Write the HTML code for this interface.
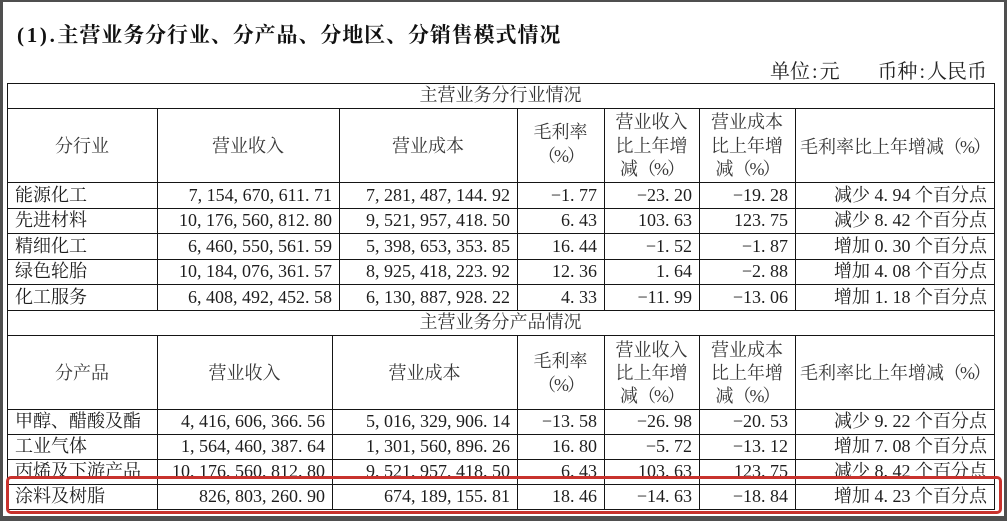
<!DOCTYPE html>
<html><head><meta charset="utf-8">
<style>
html,body{margin:0;padding:0}
body{width:1007px;height:521px;background:#4f4f4f;position:relative;overflow:hidden}
#page{position:absolute;left:3px;top:2px;width:1001px;height:514px;background:#fff}
.h{position:absolute;height:1px;background:#151515;left:7px;width:988px}
.v{position:absolute;width:1px;background:#151515}
.t{position:absolute;font-family:"Liberation Serif","Noto Serif CJK SC",serif;font-size:18px;white-space:nowrap;color:#1e1e1e;box-sizing:border-box}
.hd{color:#383838;text-align:center}
.row{position:absolute;left:0;width:1007px}
.row .t{top:0;height:100%}
.c1{left:7px;width:150px;padding-left:8px;text-align:left}
.c2{left:157px;width:182px}
.c3{left:339px;width:178px}
.p2{left:157px;width:175px}
.p3{left:332px;width:185px}
.c4{left:517px;width:87px}
.c5{left:604px;width:95px}
.c6{left:699px;width:96px}
.c7{left:795px;width:199px}
.r{text-align:right;padding-right:7px}
.pc{letter-spacing:-2px}
</style></head><body>
<div id="page"></div>

<div class="t" style="left:17px;top:23px;font-size:21px;line-height:24px;font-weight:bold;color:#111"><span style="letter-spacing:2.7px">(1).</span><span style="letter-spacing:0.9px">主营业务分行业、分产品、分地区、分销售模式情况</span></div>

<div class="t" style="left:770px;top:60px;font-size:20px;line-height:24px;color:#222">单位<span style="padding:0 2px">:</span>元</div>
<div class="t" style="left:870px;width:117px;text-align:right;top:60px;font-size:20px;line-height:24px;color:#222">币种<span style="padding:0 2px">:</span>人民币</div>

<!-- horizontal lines -->
<div class="h" style="top:83px"></div>
<div class="h" style="top:108px"></div>
<div class="h" style="top:182px"></div>
<div class="h" style="top:208px"></div>
<div class="h" style="top:233px"></div>
<div class="h" style="top:259px"></div>
<div class="h" style="top:284px"></div>
<div class="h" style="top:310px"></div>
<div class="h" style="top:335px"></div>
<div class="h" style="top:409px"></div>
<div class="h" style="top:434px"></div>
<div class="h" style="top:459px"></div>
<div class="h" style="top:484px"></div>
<div class="h" style="top:509px"></div>

<!-- vertical lines -->
<div class="v" style="left:7px;top:83px;height:427px"></div>
<div class="v" style="left:994px;top:83px;height:427px"></div>
<div class="v" style="left:157px;top:108px;height:202px"></div>
<div class="v" style="left:339px;top:108px;height:202px"></div>
<div class="v" style="left:517px;top:108px;height:202px"></div>
<div class="v" style="left:604px;top:108px;height:202px"></div>
<div class="v" style="left:699px;top:108px;height:202px"></div>
<div class="v" style="left:795px;top:108px;height:202px"></div>
<div class="v" style="left:157px;top:335px;height:175px"></div>
<div class="v" style="left:332px;top:335px;height:175px"></div>
<div class="v" style="left:517px;top:335px;height:175px"></div>
<div class="v" style="left:604px;top:335px;height:175px"></div>
<div class="v" style="left:699px;top:335px;height:175px"></div>
<div class="v" style="left:795px;top:335px;height:175px"></div>

<!-- section 1 header -->
<div class="t hd" style="left:7px;width:987px;top:83px;line-height:25px;color:#333">主营业务分行业情况</div>

<div class="t hd" style="left:7px;width:150px;top:134px;line-height:24px">分行业</div>
<div class="t hd" style="left:157px;width:182px;top:134px;line-height:24px">营业收入</div>
<div class="t hd" style="left:339px;width:178px;top:134px;line-height:24px">营业成本</div>
<div class="t hd" style="left:517px;width:87px;top:120px;line-height:24px">毛利率<br><span class="pc">（%）</span></div>
<div class="t hd" style="left:604px;width:95px;top:111px;line-height:23.5px">营业收入<br>比上年增<br>减<span class="pc">（%）</span></div>
<div class="t hd" style="left:699px;width:96px;top:111px;line-height:23.5px">营业成本<br>比上年增<br>减<span class="pc">（%）</span></div>
<div class="t hd" style="left:795px;width:199px;top:135px;line-height:24px">毛利率比上年增减<span class="pc">（%）</span></div>

<!-- section 1 rows -->
<div class="row" style="top:182px;height:26px;line-height:26px">
<div class="t c1">能源化工</div><div class="t c2 r">7, 154, 670, 611. 71</div><div class="t c3 r">7, 281, 487, 144. 92</div><div class="t c4 r">−1. 77</div><div class="t c5 r">−23. 20</div><div class="t c6 r">−19. 28</div><div class="t c7 r">减少 4. 94 个百分点</div>
</div>
<div class="row" style="top:208px;height:25px;line-height:25px">
<div class="t c1">先进材料</div><div class="t c2 r">10, 176, 560, 812. 80</div><div class="t c3 r">9, 521, 957, 418. 50</div><div class="t c4 r">6. 43</div><div class="t c5 r">103. 63</div><div class="t c6 r">123. 75</div><div class="t c7 r">减少 8. 42 个百分点</div>
</div>
<div class="row" style="top:233px;height:26px;line-height:26px">
<div class="t c1">精细化工</div><div class="t c2 r">6, 460, 550, 561. 59</div><div class="t c3 r">5, 398, 653, 353. 85</div><div class="t c4 r">16. 44</div><div class="t c5 r">−1. 52</div><div class="t c6 r">−1. 87</div><div class="t c7 r">增加 0. 30 个百分点</div>
</div>
<div class="row" style="top:259px;height:25px;line-height:25px">
<div class="t c1">绿色轮胎</div><div class="t c2 r">10, 184, 076, 361. 57</div><div class="t c3 r">8, 925, 418, 223. 92</div><div class="t c4 r">12. 36</div><div class="t c5 r">1. 64</div><div class="t c6 r">−2. 88</div><div class="t c7 r">增加 4. 08 个百分点</div>
</div>
<div class="row" style="top:284px;height:26px;line-height:26px">
<div class="t c1">化工服务</div><div class="t c2 r">6, 408, 492, 452. 58</div><div class="t c3 r">6, 130, 887, 928. 22</div><div class="t c4 r">4. 33</div><div class="t c5 r">−11. 99</div><div class="t c6 r">−13. 06</div><div class="t c7 r">增加 1. 18 个百分点</div>
</div>

<!-- section 2 header -->
<div class="t hd" style="left:7px;width:987px;top:310px;line-height:25px;color:#333">主营业务分产品情况</div>

<div class="t hd" style="left:7px;width:150px;top:361px;line-height:24px">分产品</div>
<div class="t hd" style="left:157px;width:175px;top:361px;line-height:24px">营业收入</div>
<div class="t hd" style="left:332px;width:185px;top:361px;line-height:24px">营业成本</div>
<div class="t hd" style="left:517px;width:87px;top:349px;line-height:24px">毛利率<br><span class="pc">（%）</span></div>
<div class="t hd" style="left:604px;width:95px;top:339px;line-height:23px">营业收入<br>比上年增<br>减<span class="pc">（%）</span></div>
<div class="t hd" style="left:699px;width:96px;top:339px;line-height:23px">营业成本<br>比上年增<br>减<span class="pc">（%）</span></div>
<div class="t hd" style="left:795px;width:199px;top:361px;line-height:24px">毛利率比上年增减<span class="pc">（%）</span></div>

<!-- section 2 rows -->
<div class="row" style="top:409px;height:25px;line-height:25px">
<div class="t c1">甲醇、醋酸及酯</div><div class="t p2 r">4, 416, 606, 366. 56</div><div class="t p3 r">5, 016, 329, 906. 14</div><div class="t c4 r">−13. 58</div><div class="t c5 r">−26. 98</div><div class="t c6 r">−20. 53</div><div class="t c7 r">减少 9. 22 个百分点</div>
</div>
<div class="row" style="top:434px;height:25px;line-height:25px">
<div class="t c1">工业气体</div><div class="t p2 r">1, 564, 460, 387. 64</div><div class="t p3 r">1, 301, 560, 896. 26</div><div class="t c4 r">16. 80</div><div class="t c5 r">−5. 72</div><div class="t c6 r">−13. 12</div><div class="t c7 r">增加 7. 08 个百分点</div>
</div>
<div class="row" style="top:459px;height:17px;overflow:hidden">
<div style="position:absolute;left:0;top:0;width:1007px;height:25px;line-height:25px">
<div class="t c1">丙烯及下游产品</div><div class="t p2 r">10, 176, 560, 812. 80</div><div class="t p3 r">9, 521, 957, 418. 50</div><div class="t c4 r">6. 43</div><div class="t c5 r">103. 63</div><div class="t c6 r">123. 75</div><div class="t c7 r">减少 8. 42 个百分点</div>
</div>
</div>
<div class="row" style="top:484px;height:25px;line-height:25px">
<div class="t c1">涂料及树脂</div><div class="t p2 r">826, 803, 260. 90</div><div class="t p3 r">674, 189, 155. 81</div><div class="t c4 r">18. 46</div><div class="t c5 r">−14. 63</div><div class="t c6 r">−18. 84</div><div class="t c7 r">增加 4. 23 个百分点</div>
</div>

<!-- red highlight -->
<div style="position:absolute;left:6px;top:476px;width:996px;height:38px;box-sizing:border-box;border:3px solid #c8322d;border-radius:5px"></div>
</body></html>
